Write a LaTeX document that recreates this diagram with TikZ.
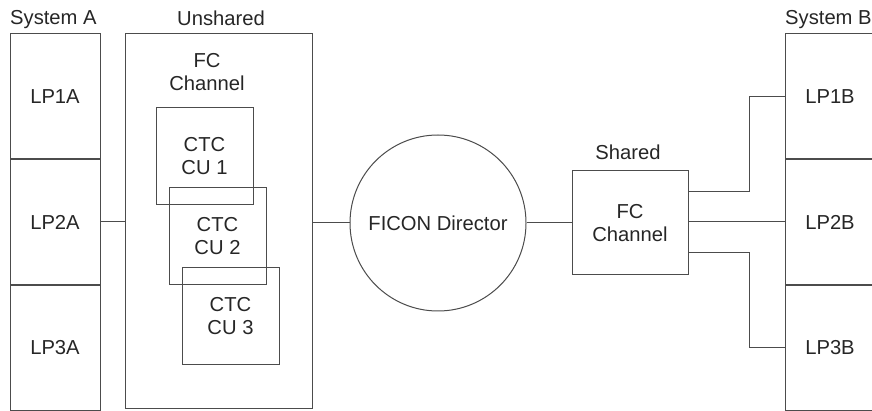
\documentclass[tikz,border=0pt]{standalone}
\usepackage{fontspec}
\setmainfont{Liberation Sans}
\usetikzlibrary{positioning}
\usetikzlibrary{calc}

\begin{document}
\begin{tikzpicture}[
  x = 1pt, y = -1pt,
  font = \fontsize{20.2}{23}\selectfont,
  every node/.style = {text=black!85},
  box/.style = {draw=black!70,line width=1pt,inner sep=0pt,align=center},
  lp/.style = {box,minimum width=90pt,minimum height=124.7pt},
  ctc/.style = {box,minimum size=97pt},
  conn/.style = {draw=black!70,line width=1pt}
  ]
  \useasboundingbox (0,0) rectangle (872,411);

  % system A
  \node[anchor=base west,inner sep=0pt] (sysa) at (10,25) {System A};
  \node[lp] (lp1a) at (55,96.3) {LP1A};
  \node[lp,below=0pt of lp1a] (lp2a) {LP2A};
  \node[lp,below=0pt of lp2a] (lp3a) {LP3A};

  % unshared channel
  \node[box,minimum width=187pt,minimum height=374pt] (unshared) at (218.5,221) {};
  \node[anchor=base] (unsh) at (221,26) {Unshared};
  \node[align=center,anchor=base] (fca) at (207,91) {FC\\Channel};
  \node[ctc] (cu1) at (204.5,156.5) {CTC\\CU 1};
  \node[ctc] (cu2) at (217.5,236) {CTC\\CU 2};
  \node[ctc] (cu3) at (230.5,316) {CTC\\CU 3};

  % director and shared channel
  \node[box,circle,minimum size=176pt] (director) at (438,223) {FICON Director};
  \node[anchor=base] (sh) at (628,160) {Shared};
  \node[box,minimum width=116pt,minimum height=104pt] (shared) at (630,223) {FC\\Channel};

  % system B
  \node[anchor=base west,inner sep=0pt] (sysb) at (785,25) {System B};
  \node[lp] (lp1b) at (830,96.3) {LP1B};
  \node[lp,below=0pt of lp1b] (lp2b) {LP2B};
  \node[lp,below=0pt of lp2b] (lp3b) {LP3B};

  \draw[conn] (lp2a.east) -- (lp2a.east -| unshared.west);
  \draw[conn] (unshared.east |- director.west) -- (director.west);
  \draw[conn] (director.east) -- (shared.west);
  \draw[conn] ([yshift=31pt]shared.east) -- ++(61,0) |- (lp1b.west);
  \draw[conn] (shared.east |- lp2b.west) -- (lp2b.west);
  \draw[conn] ([yshift=-30pt]shared.east) -- ++(61,0) |- (lp3b.west);
\end{tikzpicture}
\end{document}
